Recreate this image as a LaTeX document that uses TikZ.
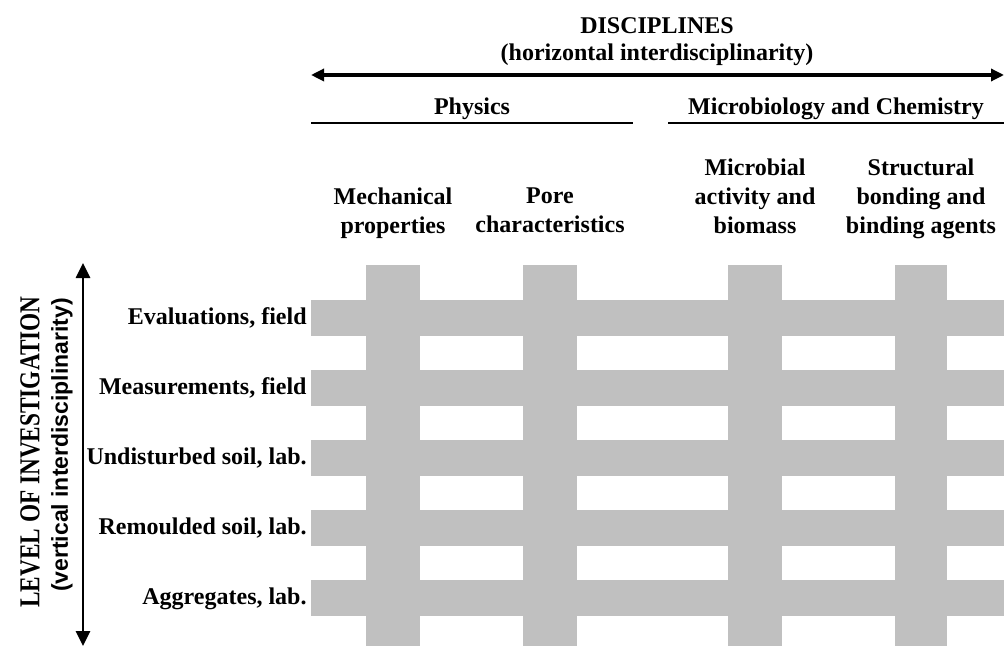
\documentclass[tikz,border=0pt]{standalone}
\usepackage{fontspec}
\setmainfont{Liberation Serif}
\newfontfamily\sansbold{Liberation Sans}
\usetikzlibrary{arrows.meta}
\definecolor{bargray}{RGB}{192,192,192}
\begin{document}
\begin{tikzpicture}[x=0.5pt,y=-0.5pt,
  lbl/.style={font=\bfseries\fontsize{12pt}{14.5pt}\selectfont, inner sep=0pt},
  colhead/.style={lbl, align=center, anchor=north},
  rowlbl/.style={lbl, anchor=base east},
  bar/.style={fill=bargray, draw=none},
  harrow/.style={{Triangle[length=6.5pt,width=6pt]}-{Triangle[length=6.5pt,width=6pt]}, line width=1.6pt},
  varrow/.style={{Triangle[length=7.5pt,width=7pt]}-{Triangle[length=7.5pt,width=7pt]}, line width=1.3pt},
  rule/.style={line width=1.3pt}]
\useasboundingbox (0,0) rectangle (1004,646);
% grid of bars
\foreach \a/\b in {366/420,523/577,728/782,895/947}
  \fill[bar] (\a,265) rectangle (\b,646);
\foreach \y in {300,370,440,510,580}
  \fill[bar] (311,\y) rectangle (1004,\y+36);
% top titles
\node[lbl, anchor=base] (disc) at (657,34) {DISCIPLINES};
\node[lbl, anchor=base] (hint) at (657,61) {(horizontal interdisciplinarity)};
\coordinate (hL) at (311,75);
\coordinate (hR) at (1004,75);
\draw[harrow] (hL) -- (hR);
\node[lbl, anchor=base] (phys) at (472,115) {Physics};
\node[lbl, anchor=base] (mbc) at (836,115) {Microbiology and Chemistry};
\coordinate (pL) at (311,123);
\coordinate (pR) at (633,123);
\coordinate (mL) at (668,123);
\coordinate (mR) at (1004,123);
\draw[rule] (pL) -- (pR);
\draw[rule] (mL) -- (mR);
% column headers
\node[colhead] (c1) at (393,187) {Mechanical\\properties};
\node[colhead] (c2) at (550,187) {Pore\\characteristics};
\node[colhead] (c3) at (755,158) {Microbial\\activity and\\biomass};
\node[colhead] (c4) at (921,158) {Structural\\bonding and\\binding agents};
% row labels
\node[rowlbl] (r1) at (307,324) {Evaluations, field};
\node[rowlbl] (r2) at (307,394) {Measurements, field};
\node[rowlbl] (r3) at (307,464) {Undisturbed soil, lab.};
\node[rowlbl] (r4) at (307,534) {Remoulded soil, lab.};
\node[rowlbl] (r5) at (307,604) {Aggregates, lab.};
% vertical axis
\coordinate (vT) at (83,263);
\coordinate (vB) at (83,646);
\draw[varrow] (vB) -- (vT);
\node[lbl, rotate=90] (lev) at (30,452) {\scalebox{0.97}[1.2]{LEVEL OF INVESTIGATION}};
\node[inner sep=0pt, rotate=90, font=\sansbold\bfseries\fontsize{11.5pt}{14pt}\selectfont] (vint) at (62,445) {(vertical interdisciplinarity)};
\end{tikzpicture}
\end{document}
